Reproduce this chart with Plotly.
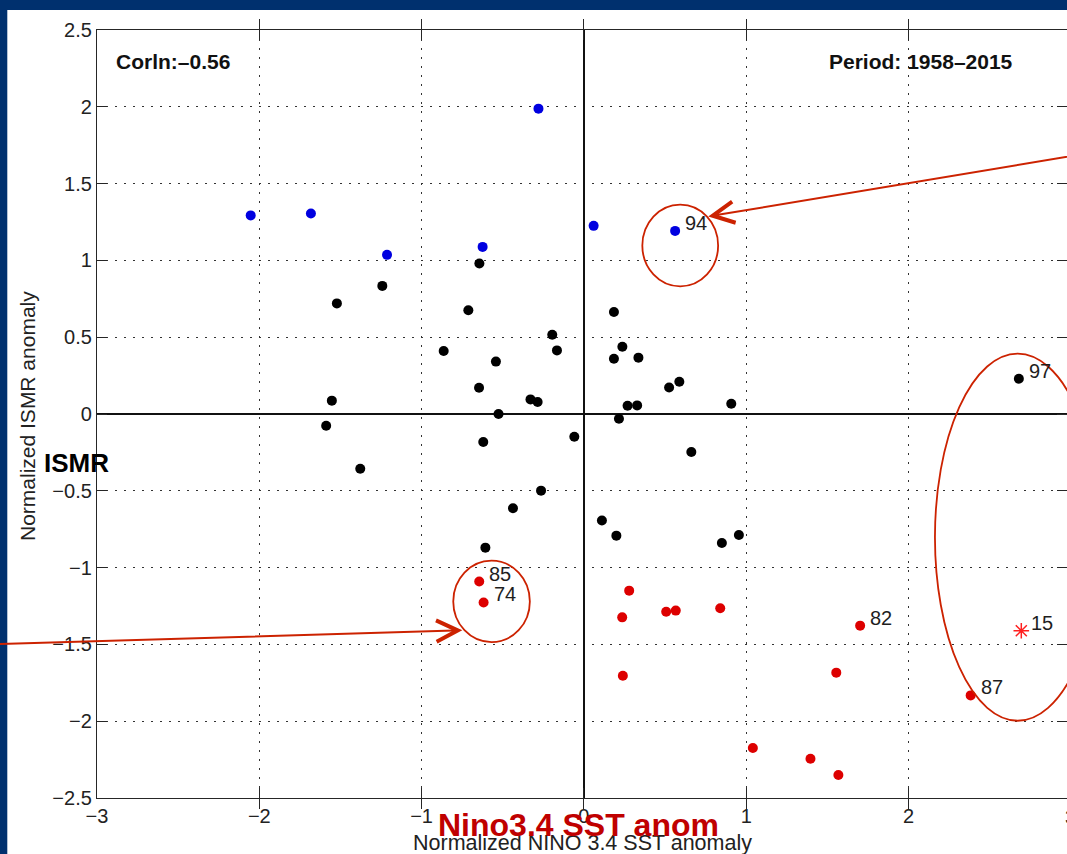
import plotly.graph_objects as go

# ---------------- data (normalized anomalies) ----------------
# Excess-monsoon years (blue)
blue_x = [-2.053, -1.682, -1.213, -0.280, -0.624, 0.060, 0.562]
blue_y = [1.293, 1.305, 1.036, 1.988, 1.088, 1.225, 1.192]
blue_lbl = ["", "", "", "", "", "", "94"]

# Normal years (black)
black_x = [-1.522, -1.553, -1.588, -1.378, -1.242, -0.864, -0.644, -0.712, 0.185,
           -0.195, -0.166, 0.237, 0.185, 0.336, -0.542, -0.646, 0.525, 0.588,
           -0.329, -0.285, 0.269, 0.328, 0.908, -0.526, 0.216, -0.620, -0.059,
           0.662, -0.264, -0.437, 0.111, 0.200, 0.850, 0.955, -0.607, 2.680]
black_y = [0.720, 0.087, -0.076, -0.356, 0.834, 0.410, 0.980, 0.675, 0.664,
           0.516, 0.414, 0.438, 0.360, 0.367, 0.341, 0.171, 0.173, 0.210,
           0.095, 0.078, 0.054, 0.056, 0.067, 0.000, -0.031, -0.182, -0.148,
           -0.247, -0.499, -0.614, -0.693, -0.792, -0.840, -0.788, -0.870, 0.230]
black_lbl = [""] * 35 + ["97"]

# Deficient-monsoon years (red)
red_x = [-0.645, -0.618, 0.279, 0.236, 0.507, 0.566, 0.840, 1.702, 0.240,
         1.555, 2.383, 1.041, 1.396, 1.568]
red_y = [-1.091, -1.227, -1.150, -1.324, -1.287, -1.280, -1.265, -1.378, -1.704,
         -1.684, -1.832, -2.175, -2.244, -2.350]
red_lbl = ["85", "74", "", "", "", "", "", "82", "", "", "87", "", "", ""]

# 2015 (asterisk)
star_x = [2.695]
star_y = [-1.411]
star_lbl = ["15"]

x_ticks = [-3, -2, -1, 0, 1, 2, 3]
y_ticks = [-2.5, -2, -1.5, -1, -0.5, 0, 0.5, 1, 1.5, 2, 2.5]

corr_text = "Corln:–0.56"
period_text = "Period: 1958–2015"

# ---------------- layout constants ----------------
W, H = 1067, 854
ML, MT, MB, MR = 97, 30, 56, 0
PW, PH = W - ML - MR, H - MT - MB
X_PER_PX = 1 / 162.3
x_min = -3
x_max = x_min + PW * X_PER_PX
y_min, y_max = -2.5, 2.5

FONT = "Liberation Sans, Arial, Helvetica, sans-serif"
NAVY = "#00306E"
ARED = "#CC2200"
TXT = "#1e1e1e"


def pxx(p):  # pixel x -> paper x
    return (p - ML) / PW


def pxy(p):  # pixel y -> paper y
    return (H - MB - p) / PH


fig = go.Figure()

marker_common = dict(size=10, line=dict(width=0))
fig.add_trace(go.Scatter(x=black_x, y=black_y, mode="markers",
                         marker=dict(color="#000000", **marker_common),
                         showlegend=False, hoverinfo="x+y"))
fig.add_trace(go.Scatter(x=blue_x, y=blue_y, mode="markers",
                         marker=dict(color="#0000E0", **marker_common),
                         showlegend=False, hoverinfo="x+y"))
fig.add_trace(go.Scatter(x=red_x, y=red_y, mode="markers",
                         marker=dict(color="#DD0000", **marker_common),
                         showlegend=False, hoverinfo="x+y"))
fig.add_trace(go.Scatter(x=star_x, y=star_y, mode="markers",
                         marker=dict(symbol="asterisk-open", size=13,
                                     color="#FF2020",
                                     line=dict(width=1.5, color="#FF2020")),
                         showlegend=False, hoverinfo="x+y"))
# dummy trace for the right-hand tick axis
fig.add_trace(go.Scatter(x=[None], y=[None], yaxis="y2", showlegend=False,
                         hoverinfo="skip"))

annotations = []
# point labels
for xs, ys, ls in [(blue_x, blue_y, blue_lbl), (black_x, black_y, black_lbl),
                   (red_x, red_y, red_lbl), (star_x, star_y, star_lbl)]:
    for xv, yv, lb in zip(xs, ys, ls):
        if lb:
            annotations.append(dict(x=xv, y=yv, xref="x", yref="y", text=lb,
                                    showarrow=False, xanchor="left",
                                    yanchor="middle", xshift=8, yshift=8,
                                    font=dict(family=FONT, size=20, color=TXT)))

# corner texts
annotations.append(dict(x=pxx(114), y=pxy(62), xref="paper", yref="paper",
                        text="<b>" + corr_text + "</b>", showarrow=False,
                        xanchor="left", yanchor="middle",
                        font=dict(family=FONT, size=21, color="#111111")))
annotations.append(dict(x=pxx(827), y=pxy(62), xref="paper", yref="paper",
                        text="<b>" + period_text + "</b>", showarrow=False,
                        xanchor="left", yanchor="middle",
                        font=dict(family=FONT, size=21, color="#111111")))

# axis titles
annotations.append(dict(x=0.5, y=pxy(843), xref="paper", yref="paper",
                        text="Normalized NINO 3.4 SST anomaly", showarrow=False,
                        xanchor="center", yanchor="middle",
                        font=dict(family=FONT, size=21.5, color="#222222")))
annotations.append(dict(x=pxx(27), y=pxy(416), xref="paper", yref="paper",
                        text="Normalized ISMR anomaly", showarrow=False,
                        textangle=-90, xanchor="center", yanchor="middle",
                        font=dict(family=FONT, size=21, color="#222222")))
# overlay labels
annotations.append(dict(x=pxx(76), y=pxy(463), xref="paper", yref="paper",
                        text="<b>ISMR</b>", showarrow=False,
                        xanchor="center", yanchor="middle",
                        font=dict(family=FONT, size=26, color="#000000")))
annotations.append(dict(x=pxx(578), y=pxy(825), xref="paper", yref="paper",
                        text="<b>Nino3.4 SST anom</b>", showarrow=False,
                        xanchor="center", yanchor="middle",
                        font=dict(family=FONT, size=32, color="#C00000")))

# partially visible "3" tick label at the right edge
annotations.append(dict(x=(3 - x_min) / (x_max - x_min), y=pxy(817),
                        xref="paper", yref="paper", text="3", showarrow=False,
                        xanchor="center", yanchor="middle",
                        font=dict(family=FONT, size=20, color="#222222")))

# arrows
annotations.append(dict(x=0.766, y=1.286, xref="x", yref="y",
                        ax=3.179, ay=1.710, axref="x", ayref="y", text="",
                        showarrow=True, arrowhead=5, arrowsize=2.1,
                        arrowwidth=2, arrowcolor=ARED))
annotations.append(dict(x=-0.749, y=-1.408, xref="x", yref="y",
                        ax=-3.72, ay=-1.502, axref="x", ayref="y", text="",
                        showarrow=True, arrowhead=5, arrowsize=2.1,
                        arrowwidth=2, arrowcolor=ARED))

shapes = [
    # white page inside the navy frame (paper background is navy)
    dict(type="rect", xref="paper", yref="paper", x0=pxx(7.3), x1=pxx(W + 10),
         y0=pxy(H + 10), y1=pxy(10), fillcolor="white", line=dict(width=0),
         layer="below"),
    # highlight ellipses
    dict(type="circle", xref="x", yref="y", x0=0.360, x1=0.827, y0=0.831,
         y1=1.363, line=dict(color=ARED, width=1.8)),
    dict(type="circle", xref="x", yref="y", x0=-0.805, x1=-0.333, y0=-1.485,
         y1=-0.955, line=dict(color=ARED, width=1.8)),
    dict(type="circle", xref="x", yref="y", x0=2.163, x1=3.182, y0=-1.997,
         y1=0.393, line=dict(color=ARED, width=1.8)),
]

axis_common = dict(
    ticks="inside", ticklen=10, tickwidth=1.2, tickcolor="#262626",
    showline=True, linecolor="#262626", linewidth=1.3,
    showgrid=True, gridcolor="#333333", gridwidth=1.2, griddash="2px,7px",
    zeroline=True, zerolinecolor="#111111", zerolinewidth=1.5,
    tickfont=dict(family=FONT, size=20, color="#222222"),
)

fig.update_layout(
    width=W, height=H,
    margin=dict(l=ML, r=MR, t=MT, b=MB, pad=0),
    paper_bgcolor=NAVY, plot_bgcolor="white",
    xaxis=dict(range=[x_min, x_max], tickvals=x_ticks, mirror="allticks",
               **axis_common),
    yaxis=dict(range=[y_min, y_max], tickvals=y_ticks, mirror=False,
               **axis_common),
    yaxis2=dict(range=[y_min, y_max], tickvals=y_ticks, overlaying="y",
                side="right", ticks="inside", ticklen=10, tickwidth=1.2,
                tickcolor="#262626", showticklabels=False, showgrid=False,
                zeroline=False, showline=False),
    annotations=annotations,
    shapes=shapes,
    showlegend=False,
)

fig.write_html(
    "out.html",
    config={"displayModeBar": False},
    post_script="document.body.style.margin='0';"
                "document.body.style.overflow='hidden';",
)
